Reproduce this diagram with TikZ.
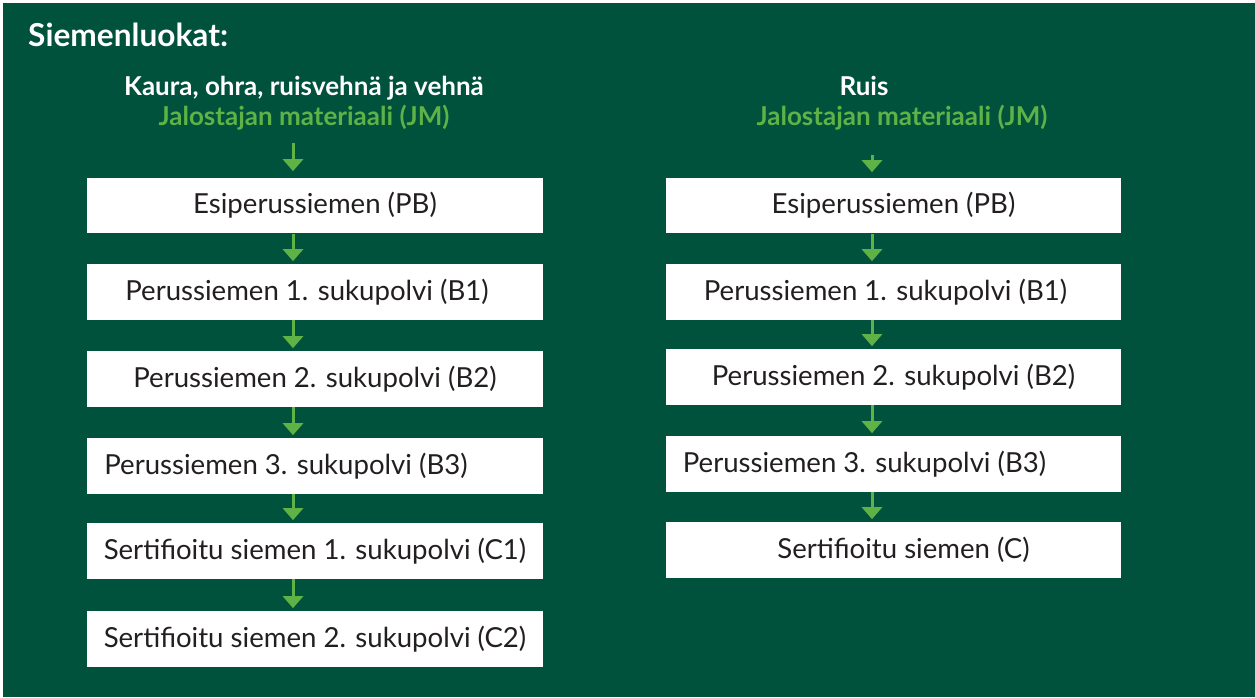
\documentclass[tikz,border=0pt]{standalone}
\usepackage{fontspec}
\setmainfont{Lato}
\usepackage{tikz}
\usetikzlibrary{arrows.meta, positioning}

\definecolor{bggreen}{RGB}{0,82,60}
\definecolor{lightgreen}{RGB}{94,178,70}
\definecolor{boxtext}{RGB}{35,31,32}

% move the text inside a box sideways
\newcommand{\offtext}[2]{\hspace*{#1}\makebox[0pt]{#2}\hspace*{-#1}}

\begin{document}
\begin{tikzpicture}[x=0.02cm, y=-0.02cm]
      \tikzset{classbox/.style = {shape=rectangle, fill=white, inner sep=0pt,
          minimum width=9.12cm, minimum height=1.12cm, text=boxtext,
          font=\fontsize{15.7}{18}\selectfont}}
      \tikzset{flow/.style = {-{Triangle[width=0.4cm,length=0.24cm]},
          draw=lightgreen, line width=0.06cm, shorten >=0.05cm}}
      \tikzset{heading/.style = {anchor=base, text=white,
          font=\fontsize{14.8}{17}\selectfont\bfseries}}
      \tikzset{source/.style = {anchor=base, text=lightgreen,
          font=\fontsize{14.8}{17}\selectfont\bfseries}}

      \useasboundingbox (0,0) rectangle (1255,697);
      \fill[bggreen] (3,3) rectangle (1255,697);

      \node[anchor=base west, text=white, font=\fontsize{18}{20}\selectfont\bfseries]
        (title) at (22,46) {Siemenluokat:};

      % vasen sarake
      \node[heading] (headL) at (304,95) {Kaura, ohra, ruisvehnä ja vehnä};
      \node[source] (jmL) at (304,125) {Jalostajan materiaali (JM)};
      \coordinate (jmLout) at (293,143);
      \node[classbox] (pbL) at (315,205.5) {Esiperussiemen (PB)};
      \node[classbox] (b1L) at (315,292) {\offtext{-0.16cm}{Perussiemen 1. sukupolvi (B1)}};
      \node[classbox] (b2L) at (315,379) {Perussiemen 2. sukupolvi (B2)};
      \node[classbox] (b3L) at (315,466) {\offtext{-0.58cm}{Perussiemen 3. sukupolvi (B3)}};
      \node[classbox] (c1L) at (315,551) {Sertifioitu siemen 1. sukupolvi (C1)};
      \node[classbox] (c2L) at (315,639) {Sertifioitu siemen 2. sukupolvi (C2)};

      \draw[flow, shorten >=0.12cm] (jmLout) -- (jmLout |- pbL.north);
      \draw[flow] (pbL.south -| jmLout) -- (b1L.north -| jmLout);
      \draw[flow] (b1L.south -| jmLout) -- (b2L.north -| jmLout);
      \draw[flow] (b2L.south -| jmLout) -- (b3L.north -| jmLout);
      \draw[flow] (b3L.south -| jmLout) -- (c1L.north -| jmLout);
      \draw[flow] (c1L.south -| jmLout) -- (c2L.north -| jmLout);

      % oikea sarake
      \node[heading] (headR) at (864,95) {Ruis};
      \node[source] (jmR) at (902,125) {Jalostajan materiaali (JM)};
      \coordinate (jmRout) at (872,155);
      \node[classbox] (pbR) at (893.5,205.5) {Esiperussiemen (PB)};
      \node[classbox] (b1R) at (893.5,292) {\offtext{-0.16cm}{Perussiemen 1. sukupolvi (B1)}};
      \node[classbox] (b2R) at (893.5,377) {Perussiemen 2. sukupolvi (B2)};
      \node[classbox] (b3R) at (893.5,464) {\offtext{-0.58cm}{Perussiemen 3. sukupolvi (B3)}};
      \node[classbox] (cR) at (893.5,550) {\offtext{0.2cm}{Sertifioitu siemen (C)}};

      \draw[flow, shorten >=0.1cm] (jmRout) -- (jmRout |- pbR.north);
      \draw[flow] (pbR.south -| jmRout) -- (b1R.north -| jmRout);
      \draw[flow] (b1R.south -| jmRout) -- (b2R.north -| jmRout);
      \draw[flow] (b2R.south -| jmRout) -- (b3R.north -| jmRout);
      \draw[flow] (b3R.south -| jmRout) -- (cR.north -| jmRout);
    \end{tikzpicture}
\end{document}
